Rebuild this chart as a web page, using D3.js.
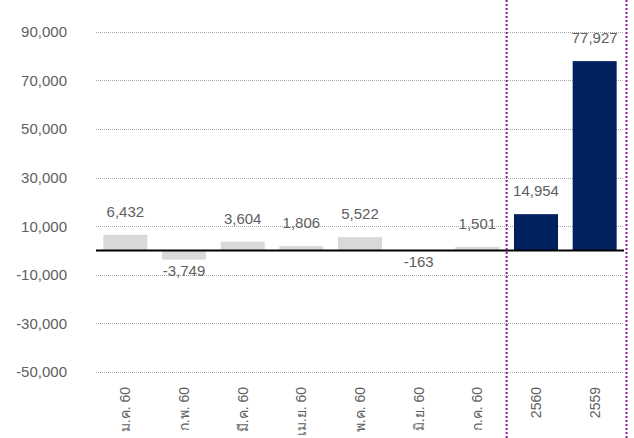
<!DOCTYPE html>
<html>
<head>
<meta charset="utf-8">
<script src="https://cdn.jsdelivr.net/npm/d3@7"></script>
<style>
  html, body { margin: 0; padding: 0; background: #fff; }
  svg { display: block; }
  text { font-family: "Liberation Sans", Arial, "Noto Sans", sans-serif; }
</style>
</head>
<body>
<svg id="chart" width="634" height="438"></svg>
<script>
const categories = ["ม.ค. 60", "ก.พ. 60", "มี.ค. 60", "เม.ย. 60", "พ.ค. 60", "มิ.ย. 60", "ก.ค. 60", "2560", "2559"];
const values = [6432, -3749, 3604, 1806, 5522, -163, 1501, 14954, 77927];
const groups = ["month", "month", "month", "month", "month", "month", "month", "year", "year"];
const yTicks = [-50000, -30000, -10000, 10000, 30000, 50000, 70000, 90000];

const W = 634, H = 438;
const left = 96, right = 624;
const svg = d3.select("#chart");

const y = d3.scaleLinear().domain([-50000, 90000]).range([372, 31.8]);
const x = d3.scaleBand().domain(categories).range([left, right])
  .paddingInner(0.25).paddingOuter(0.125);
const color = d3.scaleOrdinal().domain(["month", "year"]).range(["#d9d9d9", "#002060"]);
const fmt = v => d3.format(",")(v).replace("\u2212", "-");

// gridlines
const grid = svg.append("g");
grid.selectAll("line").data(yTicks).join("line")
  .attr("x1", left).attr("x2", right)
  .attr("y1", d => Math.round(y(d)) + 0.5).attr("y2", d => Math.round(y(d)) + 0.5)
  .attr("stroke", "#a8a8a8").attr("stroke-width", 1).attr("stroke-dasharray", "1,1");

// y axis labels
const yAxis = d3.axisLeft(y).tickValues(yTicks).tickFormat(fmt).tickSize(0).tickPadding(0);
const yg = svg.append("g").attr("transform", "translate(67,0)").call(yAxis);
yg.select(".domain").remove();
yg.selectAll("text").attr("fill", "#606060").style("font-size", "15px")
  .style("font-family", "'Liberation Sans', Arial, sans-serif");

// bars
svg.append("g").selectAll("rect").data(values).join("rect")
  .attr("x", (d, i) => x(categories[i]))
  .attr("width", x.bandwidth())
  .attr("y", d => y(Math.max(0, d)))
  .attr("height", d => Math.abs(y(d) - y(0)))
  .attr("fill", (d, i) => color(groups[i]));

// zero line
svg.append("line")
  .attr("x1", left).attr("x2", right)
  .attr("y1", y(0)).attr("y2", y(0))
  .attr("stroke", "#000").attr("stroke-width", 2.2);

// value labels
svg.append("g").selectAll("text").data(values).join("text")
  .attr("x", (d, i) => x(categories[i]) + x.bandwidth() / 2)
  .attr("y", d => d >= 0 ? y(d) - 18 : y(d) + 16)
  .attr("text-anchor", "middle")
  .attr("fill", "#606060")
  .style("font-size", "15px")
  .text(d => fmt(d));

// x axis labels (rotated)
const xAxis = d3.axisBottom(x).tickSize(0).tickPadding(0);
const xg = svg.append("g").attr("transform", "translate(0,387)").call(xAxis);
xg.select(".domain").remove();
xg.selectAll("text")
  .attr("transform", "rotate(-90)")
  .attr("x", 0).attr("y", 0).attr("dy", "0.35em")
  .attr("text-anchor", "end")
  .attr("fill", "#606060")
  .style("font-size", "14px")
  .style("font-family", "'Liberation Sans', Arial, sans-serif");

// purple dotted separators
const seps = [x(categories[7]) - x.step() * x.paddingInner() / 2, right + 2.5];
svg.append("g").selectAll("line").data(seps).join("line")
  .attr("x1", d => d).attr("x2", d => d)
  .attr("y1", 0).attr("y2", H)
  .attr("stroke", "#8e1a9e").attr("stroke-width", 2).attr("stroke-dasharray", "2,2");
</script>
</body>
</html>
